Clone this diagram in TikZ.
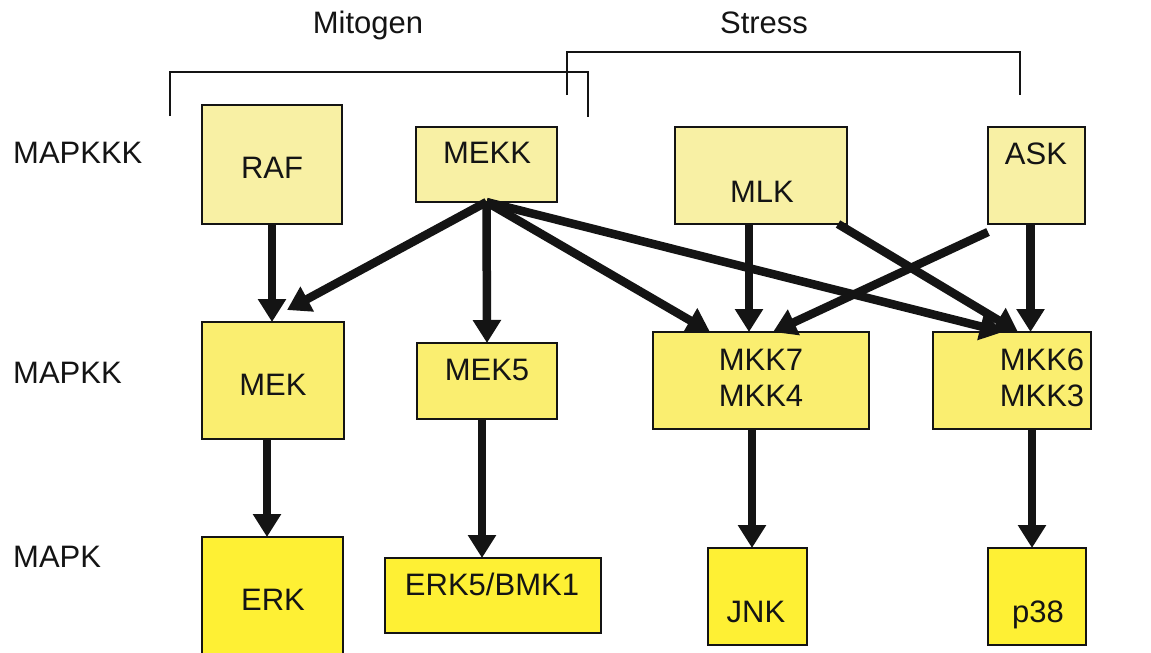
\documentclass[tikz,border=0pt]{standalone}
\usepackage{fontspec}
\setmainfont{Liberation Sans}
\usetikzlibrary{arrows.meta}
\definecolor{topfill}{RGB}{248,240,164}
\definecolor{midfill}{RGB}{250,238,112}
\definecolor{botfill}{RGB}{254,240,52}
\definecolor{ink}{RGB}{20,20,20}
\tikzset{
  box/.style={draw=ink, line width=1.4pt, inner sep=0pt, outer sep=0pt},
  toprow/.style={box, fill=topfill},
  midrow/.style={box, fill=midfill},
  botrow/.style={box, fill=botfill},
  lbl/.style={anchor=base, inner sep=0pt, text=ink, font=\fontsize{31}{36}\selectfont},
  rowlbl/.style={anchor=base west, inner sep=0pt, text=ink, font=\fontsize{31}{36}\selectfont},
  arr/.style={draw=ink, line width=8.5pt, -{Triangle[length=23pt,width=27pt]}},
  bracket/.style={draw=ink, line width=1.5pt}
}
\begin{document}
\begin{tikzpicture}[x=1pt,y=-1pt]
\useasboundingbox (0,0) rectangle (1151,653);
\fill[white] (0,0) rectangle (1151,653);
% brackets
\draw[bracket] (170,116) -- (170,72) -- (588,72) -- (588,117);
\draw[bracket] (567,95) -- (567,52) -- (1020,52) -- (1020,95);
\node[lbl] (mitogen) at (368,33) {Mitogen};
\node[lbl] (stress) at (764,33) {Stress};
% row labels
\node[rowlbl] (l1) at (13,163) {MAPKKK};
\node[rowlbl] (l2) at (13,383) {MAPKK};
\node[rowlbl] (l3) at (13,567) {MAPK};
% top row
\node[toprow, minimum width=140pt, minimum height=119pt] (raf) at (272,164.5) {};
\node[toprow, minimum width=141pt, minimum height=75pt] (mekk) at (486.5,164.5) {};
\node[toprow, minimum width=172pt, minimum height=97pt] (mlk) at (761,175.5) {};
\node[toprow, minimum width=97pt, minimum height=97pt] (ask) at (1036.5,175.5) {};
% middle row
\node[midrow, minimum width=142pt, minimum height=117pt] (mek) at (273,380.5) {};
\node[midrow, minimum width=140pt, minimum height=76pt] (mek5) at (487,381) {};
\node[midrow, minimum width=216pt, minimum height=97pt] (mkk7) at (761,380.5) {};
\node[midrow, minimum width=158pt, minimum height=97pt] (mkk6) at (1012,380.5) {};
% bottom row
\node[botrow, minimum width=141pt, minimum height=125pt] (erk) at (272.5,599.5) {};
\node[botrow, minimum width=216pt, minimum height=75pt] (erk5) at (493,595.5) {};
\node[botrow, minimum width=99pt, minimum height=97pt] (jnk) at (757.5,596.5) {};
\node[botrow, minimum width=98pt, minimum height=97pt] (p38) at (1037,596.5) {};
% texts
\node[lbl] at (272,178) {RAF};
\node[lbl] at (487,163) {MEKK};
\node[lbl] at (762,202) {MLK};
\node[lbl] at (1036,164) {ASK};
\node[lbl] at (273,395) {MEK};
\node[lbl] at (487,380) {MEK5};
\node[lbl] at (761,370) {MKK7};
\node[lbl] at (761,406) {MKK4};
\node[lbl] at (1042,370) {MKK6};
\node[lbl] at (1042,406) {MKK3};
\node[lbl] at (273,610) {ERK};
\node[lbl] at (492,595) {ERK5/BMK1};
\node[lbl] at (756,622) {JNK};
\node[lbl] at (1038,622) {p38};
% arrows
\draw[arr] (raf.south) -- (raf.south |- mek.north);
\draw[arr] (mekk.south) -- ([shift={(-57,-12)}]mek.north east);
\draw[arr] (mekk.south) -- (mek5.north);
\draw[arr] (mekk.south) -- ([xshift=57]mkk7.north west);
\draw[arr] (mekk.south) -- ([xshift=70]mkk6.north west);
\draw[arr] ([xshift=-12]mlk.south) -- ([xshift=-12]mlk.south |- mkk7.north);
\draw[arr] ([xshift=-9]mlk.south east) -- ([xshift=85]mkk6.north west);
\draw[arr] ([yshift=-8]ask.south west) -- ([xshift=120]mkk7.north west);
\draw[arr] ([xshift=-6]ask.south) -- ([xshift=-6]ask.south |- mkk6.north);
\draw[arr] ([xshift=-6]mek.south) -- ([xshift=-6]mek.south |- erk.north);
\draw[arr] ([xshift=-5]mek5.south) -- ([xshift=-5]mek5.south |- erk5.north);
\draw[arr] ([xshift=-9]mkk7.south) -- ([xshift=-9]mkk7.south |- jnk.north);
\draw[arr] ([xshift=20]mkk6.south) -- ([xshift=20]mkk6.south |- p38.north);
\end{tikzpicture}
\end{document}
